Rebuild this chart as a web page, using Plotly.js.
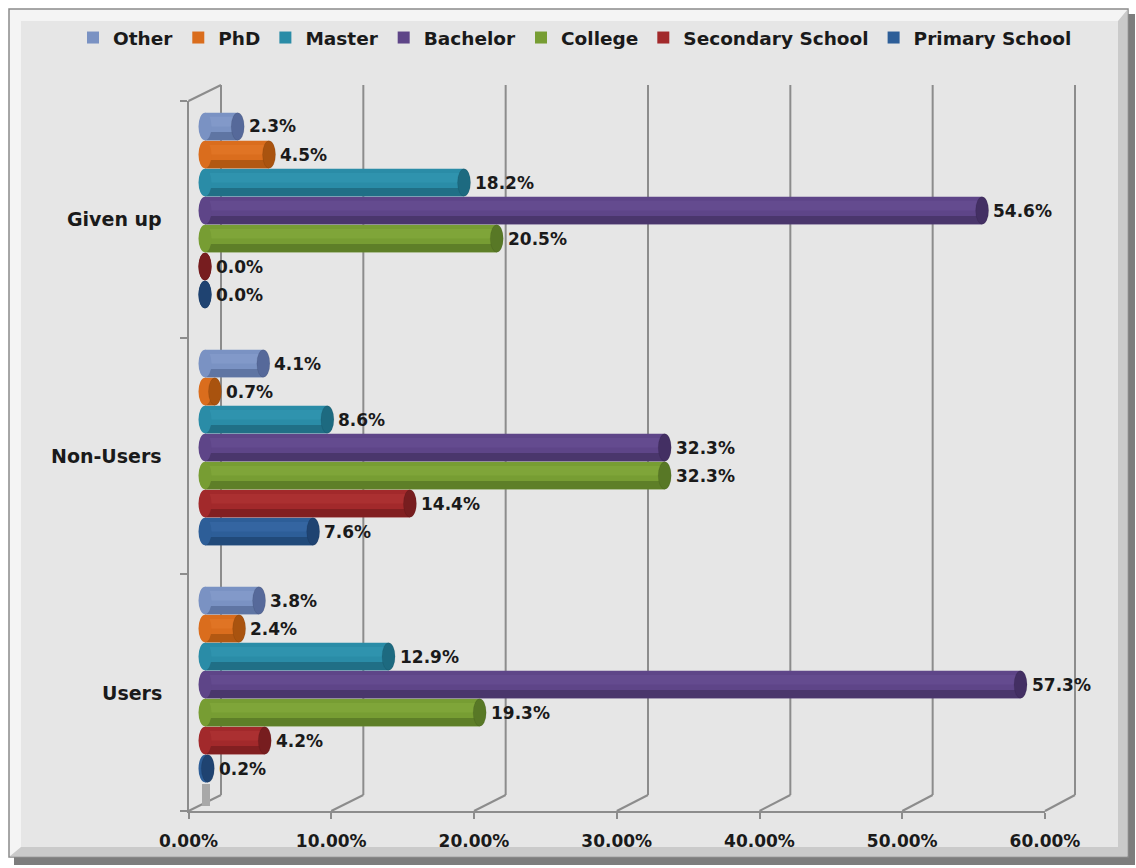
<!DOCTYPE html>
<html><head><meta charset="utf-8">
<script src="https://cdn.plot.ly/plotly-3.0.1.min.js"></script>
<style>html,body{margin:0;padding:0;background:#fff;}#chart{width:1136px;height:868px;}</style>
</head><body><div id="chart"></div>
<script>
// ---- data ----
const categories = ['Users', 'Non-Users', 'Given up'];
const seriesNames = ['Primary School', 'Secondary School', 'College', 'Bachelor', 'Master', 'PhD', 'Other'];
const primarySchool   = [0.2, 7.6, 0.0];
const secondarySchool = [4.2, 14.4, 0.0];
const college         = [19.3, 32.3, 20.5];
const bachelor        = [57.3, 32.3, 54.6];
const master          = [12.9, 8.6, 18.2];
const phd             = [2.4, 0.7, 4.5];
const other           = [3.8, 4.1, 2.3];
const xTickValues = [0, 10, 20, 30, 40, 50, 60];
const xTickLabels = ['0.00%', '10.00%', '20.00%', '30.00%', '40.00%', '50.00%', '60.00%'];

const seriesValues = [primarySchool, secondarySchool, college, bachelor, master, phd, other];
const bodyColors  = ['#2D5E98', '#A2292B', '#779D33', '#5E4588', '#2A8CA7', '#DA6D1D', '#7A92C3'];
const darkColors  = ['#214A7A', '#821F21', '#5E7F28', '#4A366C', '#206F86', '#B25812', '#5F75A3'];
const lightColors = ['#3465A1', '#AB3031', '#7FA539', '#644B8F', '#2F93AE', '#E07424', '#8299C9'];
const capColors   = ['#1F4371', '#771D1F', '#587826', '#432F63', '#1D6A80', '#A9530F', '#56699A'];

// ---- geometry helpers ----
const W = 1136, H = 868;
const fx = p => p / W;
const fy = p => 1 - p / H;
const pitch = 28 / 237;
const barW = 27.5 / 237;
const pxPerUnit = (1059 - 205) / 60;
const font = 'DejaVu Sans, Verdana, sans-serif';

const traces = [];
const shapes = [];
const annotations = [];

// frame
shapes.push({type:'rect', xref:'paper', yref:'paper', x0:fx(14), x1:fx(1135), y0:fy(14), y1:fy(865), fillcolor:'#7d7d7d', line:{width:0}, layer:'below'});
shapes.push({type:'rect', xref:'paper', yref:'paper', x0:fx(9), x1:fx(1128), y0:fy(9), y1:fy(857), fillcolor:'#f4f4f4', line:{color:'#8a8a8a', width:1.5}, layer:'below'});
shapes.push({type:'path', xref:'paper', yref:'paper', layer:'below', fillcolor:'#cacaca', line:{width:0},
  path:`M ${fx(1127.5)} ${fy(9.5)} L ${fx(1127.5)} ${fy(856.5)} L ${fx(9.5)} ${fy(856.5)} L ${fx(21)} ${fy(847)} L ${fx(1118)} ${fy(847)} L ${fx(1118)} ${fy(21)} Z`});
shapes.push({type:'rect', xref:'paper', yref:'paper', x0:fx(21), x1:fx(1118), y0:fy(21), y1:fy(847), fillcolor:'#e6e6e6', line:{width:0}, layer:'below'});

// 3D walls: back gridlines + floor diagonals
const f0 = 188.5, f1 = 1045, b0 = 221, b1 = 1075;
xTickValues.forEach(v => {
  const xf = f0 + v / 60 * (f1 - f0);
  const xb = b0 + v / 60 * (b1 - b0);
  shapes.push({type:'line', xref:'paper', yref:'paper', x0:fx(xb), y0:fy(795), x1:fx(xb), y1:fy(85), line:{color:'#8c8c8c', width:2}, layer:'below'});
  shapes.push({type:'line', xref:'paper', yref:'paper', x0:fx(xf), y0:fy(811), x1:fx(xb), y1:fy(795), line:{color:'#8c8c8c', width:2}, layer:'below'});
});
shapes.push({type:'line', xref:'paper', yref:'paper', x0:fx(188.5), y0:fy(101), x1:fx(221), y1:fy(85), line:{color:'#8c8c8c', width:2}, layer:'below'});
shapes.push({type:'rect', xref:'paper', yref:'paper', x0:fx(202), x1:fx(210), y0:fy(806), y1:fy(784), fillcolor:'#a8a8a8', line:{width:0}, layer:'below'});

// bars
seriesValues.forEach((vals, i) => {
  const off = (i - 3) * pitch - barW / 2;
  traces.push({type:'bar', orientation:'h', name:seriesNames[i], x:vals, y:[0,1,2],
    xaxis:'x3', yaxis:'y3', width:barW, offset:off,
    marker:{color:bodyColors[i], opacity:1, line:{width:0}}, hoverinfo:'x+name'});
  traces.push({type:'bar', orientation:'h', showlegend:false, x:vals, y:[0,1,2],
    xaxis:'x3', yaxis:'y3', width:barW * 0.3, offset:off,
    marker:{color:darkColors[i], opacity:1, line:{width:0}}, hoverinfo:'skip'});
  traces.push({type:'bar', orientation:'h', showlegend:false, x:vals, y:[0,1,2],
    xaxis:'x3', yaxis:'y3', width:barW * 0.35, offset:off + barW * 0.5,
    marker:{color:lightColors[i], opacity:1, line:{width:0}}, hoverinfo:'skip'});
  vals.forEach((v, j) => {
    const yc = j + (i - 3) * pitch;
    shapes.push({type:'circle', xref:'x3', yref:'y3', xsizemode:'pixel', xanchor:0, x0:-6.5, x1:6.5,
      y0:yc - barW / 2, y1:yc + barW / 2, fillcolor:bodyColors[i], line:{width:0}, layer:'above'});
    shapes.push({type:'circle', xref:'x3', yref:'y3', xsizemode:'pixel', xanchor:v, x0:-6.5, x1:6.5,
      y0:yc - barW / 2, y1:yc + barW / 2, fillcolor:capColors[i], line:{color:'rgba(0,0,0,0.15)', width:0.5}, layer:'above'});
    annotations.push({xref:'x3', yref:'y3', x:v, y:yc, xanchor:'left', yanchor:'middle', xshift:9,
      text:v.toFixed(1) + '%', showarrow:false, font:{family:font, size:17, color:'#1a1a1a', weight:'bold'}});
  });
});

// category labels
categories.forEach((c, j) => {
  annotations.push({xref:'paper', yref:'y2', x:fx(164), y:j, xanchor:'right', yanchor:'middle',
    text:c, showarrow:false, font:{family:font, size:19, color:'#1a1a1a', weight:'bold'}});
});

const layout = {
  width: W, height: H,
  margin: {l:0, r:0, t:0, b:0},
  paper_bgcolor: '#ffffff',
  plot_bgcolor: 'rgba(0,0,0,0)',
  barmode: 'overlay',
  showlegend: true,
  legend: {orientation:'h', x:fx(575), xanchor:'center', y:fy(38), yanchor:'middle',
    traceorder:'reversed', bgcolor:'rgba(0,0,0,0)', itemwidth:30,
    font:{family:font, size:18.5, color:'#1a1a1a', weight:'bold'}},
  // front axes
  xaxis2: {domain:[fx(f0), fx(f1)], range:[0,60], anchor:'y2', tickvals:xTickValues, ticktext:xTickLabels,
    ticks:'outside', ticklen:6, tickwidth:2, tickcolor:'#8c8c8c', showline:true, linecolor:'#8c8c8c', linewidth:2,
    showgrid:false, zeroline:false, ticklabelstandoff:8,
    tickfont:{family:font, size:17, color:'#1a1a1a', weight:'bold'}, fixedrange:true},
  yaxis2: {domain:[fy(811), fy(101)], range:[-0.5,2.5], anchor:'x2', tickvals:[-0.5,0.5,1.5,2.5],
    ticktext:['','','',''], ticks:'outside', ticklen:7, tickwidth:2, tickcolor:'#8c8c8c',
    showline:true, linecolor:'#8c8c8c', linewidth:2, showgrid:false, zeroline:false, fixedrange:true},
  // bars (range padded left so rounded left ends are not clipped)
  xaxis3: {domain:[fx(205 - pxPerUnit), fx(1059)], range:[-1,60], anchor:'y3', visible:false, fixedrange:true},
  yaxis3: {domain:[fy(803), fy(92)], range:[-0.5,2.5], anchor:'x3', visible:false, fixedrange:true},
  shapes: shapes,
  annotations: annotations
};

Plotly.newPlot('chart', traces, layout, {displayModeBar:false, staticPlot:true});
</script>
</body></html>
